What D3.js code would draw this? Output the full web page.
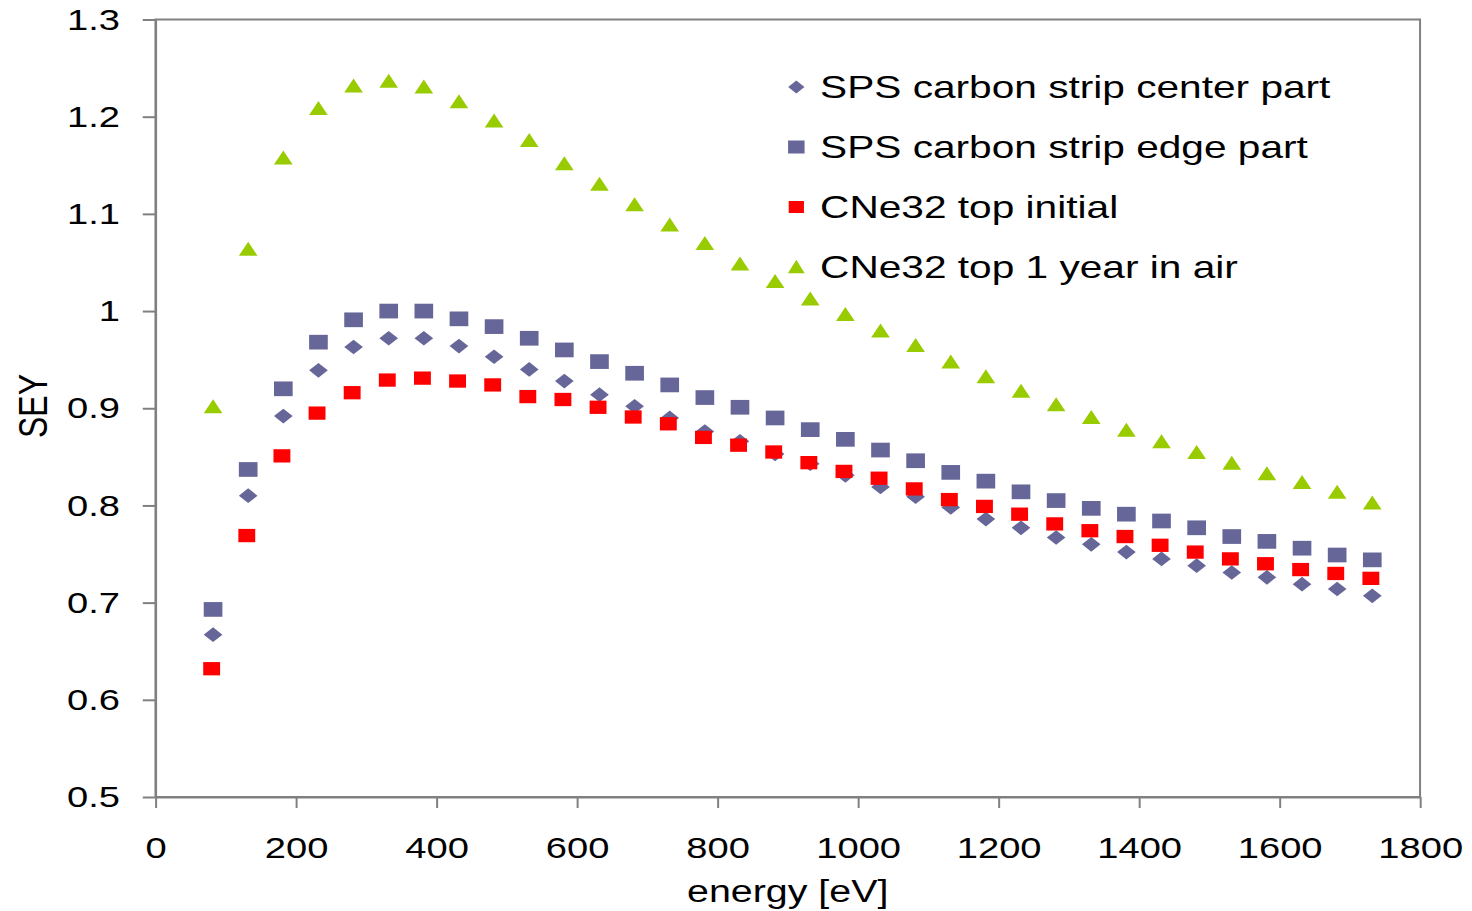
<!DOCTYPE html>
<html>
<head>
<meta charset="utf-8">
<script src="https://cdn.jsdelivr.net/npm/d3@7"></script>
<style>
  html, body { margin: 0; padding: 0; background: #ffffff; }
  svg { display: block; }
  text { font-family: "Liberation Sans", Arial, sans-serif; fill: #000000; }
</style>
</head>
<body>
<svg id="chart" width="1472" height="911" viewBox="0 0 1159 911" preserveAspectRatio="none"></svg>
<script>
// Primary energies (eV) for the SPS strip and aged CNe32 series
const energy = [82, 132, 182, 232, 282, 332, 382, 432, 482, 532, 582, 632, 682, 732, 782, 832, 882,
                932, 982, 1032, 1082, 1132, 1182, 1232, 1282, 1332, 1382, 1432, 1482, 1532, 1582, 1632, 1682, 1732];
// Primary energies (eV) for the initial CNe32 measurement
const energyInitial = [80, 130, 180, 230, 280, 330, 380, 430, 480, 530, 580, 630, 680, 730, 780, 830, 880,
                       930, 980, 1030, 1080, 1130, 1180, 1230, 1280, 1330, 1380, 1430, 1480, 1530, 1580, 1630, 1680, 1730];

const seyCenter = [0.667, 0.810, 0.892, 0.939, 0.963, 0.972, 0.972, 0.964, 0.953, 0.940, 0.928, 0.914,
                   0.902, 0.890, 0.876, 0.866, 0.853, 0.843, 0.831, 0.819, 0.809, 0.798, 0.786, 0.777,
                   0.767, 0.760, 0.752, 0.745, 0.738, 0.731, 0.726, 0.719, 0.714, 0.707];
const seyEdge = [0.693, 0.837, 0.920, 0.968, 0.991, 1.000, 1.000, 0.992, 0.984, 0.972, 0.960, 0.948,
                 0.936, 0.924, 0.911, 0.901, 0.890, 0.878, 0.868, 0.857, 0.846, 0.834, 0.825, 0.814,
                 0.805, 0.797, 0.791, 0.784, 0.777, 0.768, 0.763, 0.756, 0.749, 0.744];
const seyInitial = [0.632, 0.769, 0.851, 0.895, 0.916, 0.929, 0.931, 0.928, 0.924, 0.912, 0.909, 0.901,
                    0.891, 0.884, 0.870, 0.862, 0.855, 0.844, 0.835, 0.828, 0.817, 0.806, 0.799, 0.791,
                    0.781, 0.774, 0.768, 0.759, 0.752, 0.745, 0.740, 0.734, 0.730, 0.725];
const seyAir = [0.902, 1.064, 1.158, 1.209, 1.232, 1.237, 1.231, 1.216, 1.196, 1.176, 1.152, 1.131,
                1.110, 1.089, 1.070, 1.049, 1.031, 1.013, 0.997, 0.980, 0.965, 0.948, 0.933, 0.918,
                0.904, 0.891, 0.878, 0.866, 0.855, 0.844, 0.833, 0.824, 0.814, 0.803];

const seriesNames = ["SPS carbon strip center part", "SPS carbon strip edge part",
                     "CNe32 top initial", "CNe32 top 1 year in air"];

const xTicks = [0, 200, 400, 600, 800, 1000, 1200, 1400, 1600, 1800];
const xTickLabels = ["0", "200", "400", "600", "800", "1000", "1200", "1400", "1600", "1800"];
const yTicks = [0.5, 0.6, 0.7, 0.8, 0.9, 1.0, 1.1, 1.2, 1.3];
const yTickLabels = ["0.5", "0.6", "0.7", "0.8", "0.9", "1", "1.1", "1.2", "1.3"];

const xTitle = "energy [eV]";
const yTitle = "SEY";

// ---- layout (in the SVG's own coordinate frame) ----
const plot = { left: 122.4, right: 1118.1, top: 19.5, bottom: 797 };
const axisColor = "#808080";

const svg = d3.select("#chart");
const x = d3.scaleLinear().domain([0, 1800]).range([plot.left, plot.right]);
const y = d3.scaleLinear().domain([0.5, 1.3]).range([plot.bottom, plot.top]);

// Plot frame
svg.append("rect")
  .attr("x", plot.left).attr("y", plot.top)
  .attr("width", plot.right - plot.left).attr("height", plot.bottom - plot.top)
  .attr("fill", "none").attr("stroke", axisColor).attr("stroke-width", 2)
  .attr("vector-effect", "non-scaling-stroke");

// Axes
const xAxis = svg.append("g")
  .attr("transform", `translate(0,${plot.bottom})`)
  .call(d3.axisBottom(x).tickValues(xTicks).tickFormat((d, i) => xTickLabels[i])
        .tickSize(11).tickSizeOuter(0).tickPadding(29));
const yAxis = svg.append("g")
  .attr("transform", `translate(${plot.left},0)`)
  .call(d3.axisLeft(y).tickValues(yTicks).tickFormat((d, i) => yTickLabels[i])
        .tickSize(10).tickSizeOuter(0).tickPadding(18));

[xAxis, yAxis].forEach(g => {
  g.selectAll("path.domain, line")
    .attr("stroke", axisColor).attr("stroke-width", 2)
    .attr("vector-effect", "non-scaling-stroke");
  g.selectAll("text")
    .attr("font-family", '"Liberation Sans", Arial, sans-serif')
    .attr("font-size", 30).attr("fill", "#000");
});

// Axis titles
svg.append("text")
  .attr("x", (plot.left + plot.right) / 2).attr("y", 902)
  .attr("text-anchor", "middle").attr("font-size", 31)
  .text(xTitle);
svg.append("text")
  .attr("transform", "translate(37,406) rotate(-90)")
  .attr("text-anchor", "middle").attr("font-size", 32)
  .text(yTitle);

// ---- marker shapes ----
function squarePath(s) {
  const h = s / 2;
  return `M${-h},${-h}H${h}V${h}H${-h}Z`;
}
function diamondPath(s) {
  const h = s / 2;
  return `M0,${-h}L${h},0L0,${h}L${-h},0Z`;
}
function trianglePath(w, ht) {
  return `M0,${-ht / 2}L${w / 2},${ht / 2}L${-w / 2},${ht / 2}Z`;
}

const series = [
  { name: seriesNames[0], xs: energy,        ys: seyCenter,  color: "#666699",
    shape: diamondPath(14.7), legendShape: diamondPath(12.8) },
  { name: seriesNames[1], xs: energy,        ys: seyEdge,    color: "#666699",
    shape: squarePath(14.7),  legendShape: squarePath(13.0) },
  { name: seriesNames[2], xs: energyInitial, ys: seyInitial, color: "#ff0000",
    shape: squarePath(13.3),  legendShape: squarePath(12.0) },
  { name: seriesNames[3], xs: energy,        ys: seyAir,     color: "#99cc00",
    shape: trianglePath(14.7, 14), legendShape: trianglePath(13.2, 13.5) }
];

const marks = svg.append("g");
series.forEach(s => {
  const pts = s.xs.map((e, i) => [e, s.ys[i]]);
  marks.append("g").selectAll("path")
    .data(pts)
    .join("path")
    .attr("d", s.shape)
    .attr("transform", d => `translate(${x(d[0])},${y(d[1])})`)
    .attr("fill", s.color);
});

// ---- legend ----
const legend = svg.append("g");
const legendRowY = [87, 147, 207, 266.5];
series.forEach((s, i) => {
  legend.append("path")
    .attr("d", s.legendShape)
    .attr("transform", `translate(627,${legendRowY[i]})`)
    .attr("fill", s.color);
  legend.append("text")
    .attr("x", 645.7).attr("y", legendRowY[i] + 11.5)
    .attr("font-size", 32)
    .text(s.name);
});
</script>
</body>
</html>
